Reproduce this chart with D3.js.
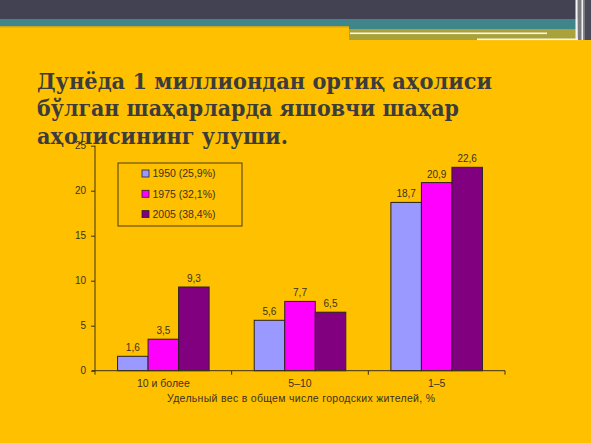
<!DOCTYPE html>
<html><head><meta charset="utf-8">
<script src="https://cdn.jsdelivr.net/npm/d3@7"></script>
<style>html,body{margin:0;padding:0;background:#ffc000;overflow:hidden}</style>
</head><body>
<script>
const categories = ["10 и более", "5–10", "1–5"];
const seriesNames = ["1950 (25,9%)", "1975 (32,1%)", "2005 (38,4%)"];
const values1950 = [1.6, 5.6, 18.7];
const values1975 = [3.5, 7.7, 20.9];
const values2005 = [9.3, 6.5, 22.6];
const yTicks = [0, 5, 10, 15, 20, 25];
const titleLines = ["Дунёда 1 миллиондан ортиқ аҳолиси", "бўлган шаҳарларда яшовчи шаҳар", "аҳолисининг улуши."];
const xTitle = "Удельный вес в общем числе городских  жителей, %";

const W = 591, H = 443;
const colors = ["#9999ff", "#ff00ff", "#800080"];
const seriesValues = [values1950, values1975, values2005];
const svg = d3.select("body").append("svg").attr("width", W).attr("height", H);

// background and top decoration
svg.append("rect").attr("width", W).attr("height", H).attr("fill", "#ffc000");
svg.append("rect").attr("x", 0).attr("y", 0).attr("width", W).attr("height", 19).attr("fill", "#424252");
svg.append("rect").attr("x", 0).attr("y", 19).attr("width", W).attr("height", 8).attr("fill", "#3f8589");
svg.append("rect").attr("x", 0).attr("y", 26).attr("width", 349).attr("height", 1.5).attr("fill", "#c9a820");
svg.append("rect").attr("x", 349).attr("y", 19).attr("width", 242).attr("height", 10).attr("fill", "#3f8589");
svg.append("rect").attr("x", 349).attr("y", 29).attr("width", 229).attr("height", 11).attr("fill", "#a9a23a");
svg.append("rect").attr("x", 350).attr("y", 32.5).attr("width", 197).attr("height", 1.6).attr("fill", "#fbf6e6");
svg.append("rect").attr("x", 477).attr("y", 38.5).attr("width", 103).attr("height", 1.6).attr("fill", "#fbf6e6");
svg.append("rect").attr("x", 578).attr("y", 0).attr("width", 13).attr("height", 40).attr("fill", "#7a7a80");
svg.append("rect").attr("x", 575.5).attr("y", 0).attr("width", 2.2).attr("height", 40).attr("fill", "#f4f4f0");
svg.append("rect").attr("x", 581.5).attr("y", 0).attr("width", 1.6).attr("height", 40).attr("fill", "#f4f4f0");
svg.append("rect").attr("x", 585).attr("y", 0).attr("width", 6).attr("height", 40).attr("fill", "#4a4a58");

// title
const titleWidths = [455, 422, 251];
const tg = svg.append("g");
titleLines.forEach((t, i) => {
  tg.append("text").attr("x", 37).attr("y", 89 + i * 27.3)
    .attr("font-family", "'DejaVu Serif', serif").attr("font-weight", "bold")
    .attr("font-size", 21.5).attr("fill", "#3c3c3c")
    .attr("textLength", titleWidths[i]).attr("lengthAdjust", "spacingAndGlyphs")
    .text(t);
});

// scales
const x0 = d3.scaleBand().domain(categories).range([95, 505]).paddingInner(0.33).paddingOuter(0.165);
const x1 = d3.scaleBand().domain(d3.range(seriesNames.length)).range([0, x0.bandwidth()]);
const y = d3.scaleLinear().domain([0, 25]).range([370.7, 145.7]);

const txt = "#3a3320";
const axisCol = "#3c3214";
const sans = "'Liberation Sans', Arial, sans-serif";

// y axis
const yAxis = svg.append("g").attr("transform", "translate(95,0)")
  .call(d3.axisLeft(y).tickValues(yTicks).tickSize(4).tickPadding(5).tickFormat(d3.format("d")));
yAxis.select(".domain").attr("stroke", axisCol).attr("d", `M0,${y(25)}V${y(0)}`);
yAxis.selectAll(".tick line").attr("stroke", axisCol);
yAxis.selectAll(".tick text").attr("fill", txt).attr("font-family", sans).attr("font-size", 10);

// bars
const step = x0.step();
categories.forEach((c, ci) => {
  seriesValues.forEach((vals, si) => {
    const bx = x0(c) + x1(si);
    svg.append("rect").attr("x", bx).attr("y", y(vals[ci]))
      .attr("width", x1.bandwidth()).attr("height", y(0) - y(vals[ci]))
      .attr("fill", colors[si]).attr("stroke", "#2a2222").attr("stroke-width", 1);
    svg.append("text").attr("x", bx + x1.bandwidth() / 2).attr("y", y(vals[ci]) - 5)
      .attr("text-anchor", "middle").attr("fill", txt)
      .attr("font-family", sans).attr("font-size", 10)
      .text(String(vals[ci]).replace(".", ","));
  });
});

// x axis
const xAxis = svg.append("g").attr("transform", `translate(0,${y(0)})`)
  .call(d3.axisBottom(x0).tickSize(0).tickPadding(9));
xAxis.select(".domain").attr("stroke", axisCol).attr("d", "M92,0H505");
xAxis.selectAll(".tick text").attr("fill", txt).attr("font-family", sans).attr("font-size", 10.5);
const boundaries = categories.map(c => x0(c) - x0.paddingInner() * step / 2).concat([x0.range()[1]]);
xAxis.selectAll("line.bt").data(boundaries).enter().append("line").attr("class", "bt")
  .attr("x1", d => d).attr("x2", d => d).attr("y1", 0).attr("y2", 4).attr("stroke", axisCol);

svg.append("text").attr("x", 301).attr("y", 402).attr("text-anchor", "middle")
  .attr("fill", txt).attr("font-family", sans).attr("font-size", 10.5)
  .attr("textLength", 268).attr("lengthAdjust", "spacing")
  .text(xTitle);

// legend
const lg = svg.append("g");
lg.append("rect").attr("x", 118).attr("y", 163).attr("width", 124).attr("height", 63)
  .attr("fill", "none").attr("stroke", "#4a3c14").attr("stroke-width", 1);
seriesNames.forEach((s, i) => {
  const cy = 173.5 + i * 20.3;
  lg.append("rect").attr("x", 142).attr("y", cy - 3.5).attr("width", 7).attr("height", 7)
    .attr("fill", colors[i]).attr("stroke", "#2a2222").attr("stroke-width", 0.8);
  lg.append("text").attr("x", 152.5).attr("y", cy + 3.8).attr("fill", txt)
    .attr("font-family", sans).attr("font-size", 10.5).text(s);
});
</script>
</body></html>
